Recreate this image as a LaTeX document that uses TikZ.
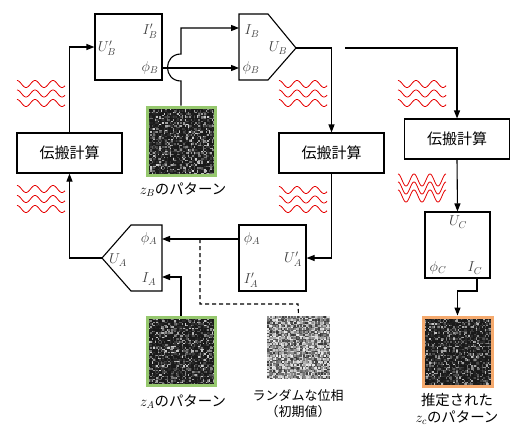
\documentclass[tikz,border=0pt]{standalone}
\usepackage{fontspec}
\newfontfamily\jp{Noto Sans CJK JP}
\usetikzlibrary{arrows.meta}
\definecolor{greenb}{RGB}{150,200,110}
\definecolor{orangeb}{RGB}{245,170,110}
\newcommand{\noisepatch}[7]{% x0 y0 maxindex seed exponent range offset
  \pgfmathsetseed{#4}
  \foreach \i in {0,...,#3} {
    \foreach \j in {0,...,#3} {
      \pgfmathsetmacro\g{int(#7+#6*rnd^#5)}
      \fill[white!\g!black] ({#1+1.5*\i},{#2+1.5*\j}) rectangle ++(1.55,1.55);
    }
  }
}
\newcommand{\wavegroup}[6]{% x0 y0 width amp period spacing
  \foreach \k in {0,1,2} {
    \draw[wave] plot[domain=0:#3,samples=90,smooth] ({#1+\x},{#2+\k*#6-#4*cos(\x/#5*360)});
  }
}
\begin{document}
\begin{tikzpicture}[x=1pt,y=-1pt,
  line width=1.1pt,
  arr/.style={-{Triangle[length=8pt,width=6pt]}},
  wave/.style={red!90!black, line width=0.8pt},
  prop/.style={draw, minimum width=105pt, minimum height=40pt, inner sep=0pt, font=\fontsize{15}{15}\selectfont\jp},
  blk/.style={draw, inner sep=0pt},
  lab/.style={text=black!75, inner sep=0pt, font=\fontsize{14.4}{14.4}\selectfont},
  captxt/.style={inner sep=0pt, font=\fontsize{14.4}{17}\selectfont\jp, align=center},
]
\useasboundingbox (0,0) rectangle (510,426);

% propagation boxes
\node[prop] (PL) at (69.5,153) {伝搬計算};
\node[prop] (PM) at (331.5,153) {伝搬計算};
\node[prop] (PR) at (457,139) {伝搬計算};

% box B1
\node[blk, minimum width=67pt, minimum height=66pt] (B1) at (128.5,47) {};
\node[lab] (B1i) at (150,31) {$I'_B$};
\node[lab] (B1u) at (107,48) {$U'_B$};
\node[lab] (B1p) at (150,68) {$\phi_B$};
\coordinate (B1out) at (162,68);

% pentagon B2
\draw (239,14) -- (268,14) -- (296,48) -- (268,80) -- (239,80) -- cycle;
\coordinate (B2i) at (239,28);
\coordinate (B2p) at (239,68);
\coordinate (B2tip) at (296,48);
\node[lab] (B2il) at (252,31) {$I_B$};
\node[lab] (B2pl) at (251,68) {$\phi_B$};
\node[lab] (B2ul) at (278,48) {$U_B$};

% box A1
\node[blk, minimum width=67pt, minimum height=66pt] (A1) at (272.5,258) {};
\node[lab] (A1p) at (252,239) {$\phi_A$};
\node[lab] (A1u) at (293,259) {$U'_A$};
\node[lab] (A1i) at (251,280) {$I'_A$};
\coordinate (A1out) at (239,239);

% pentagon A2
\draw (131,225) -- (162,225) -- (162,291) -- (131,291) -- (102,258) -- cycle;
\coordinate (A2p) at (162,239);
\coordinate (A2i) at (162,277);
\coordinate (A2tip) at (102,258);
\node[lab] (A2pl) at (149,239) {$\phi_A$};
\node[lab] (A2il) at (149,279) {$I_A$};
\node[lab] (A2ul) at (118,260) {$U_A$};

% box C
\node[blk, minimum width=65pt, minimum height=66pt] (C) at (457.5,245) {};
\node[lab] (Cu) at (458,222) {$U_C$};
\node[lab] (Cp) at (438,268) {$\phi_C$};
\node[lab] (Ci) at (475,268) {$I_C$};
\coordinate (Cout) at (477,278);

% noise images
\noisepatch{147}{107}{44}{11}{4}{75}{10}
\node[draw=greenb, line width=3pt, minimum size=68pt, inner sep=0pt] (zB) at (181,141) {};
\noisepatch{147}{317}{44}{23}{4}{75}{10}
\node[draw=greenb, line width=3pt, minimum size=68pt, inner sep=0pt] (zA) at (181,351) {};
\noisepatch{423}{317}{45}{37}{4}{70}{10}
\node[draw=orangeb, line width=3pt, minimum size=69pt, inner sep=0pt] (zC) at (457.5,351.5) {};
\noisepatch{267}{316}{41}{51}{1}{75}{20}
\node[minimum size=63pt, inner sep=0pt] (RP) at (298.5,347.5) {};

% captions
\node[captxt] (capB) at (183,190) {$z_B$のパターン};
\node[captxt] (capA) at (183,402) {$z_A$のパターン};
\node[captxt, font=\fontsize{13}{16}\selectfont\jp] (capR) at (298,404) {ランダムな位相\\（初期値）};
\node[captxt] (capC) at (457,409) {推定された\\$z_c$のパターン};

% waves
\wavegroup{17}{84}{48}{3.5}{18}{9.5}
\wavegroup{17}{189}{48}{3.5}{18}{10}
\wavegroup{279}{84}{48}{3.5}{18}{9.5}
\wavegroup{279}{190}{48}{3.5}{18}{9.5}
\wavegroup{398}{84}{48}{3.5}{18}{9.5}
\wavegroup{398}{180}{48}{6}{16}{8}

% connectors
\draw[arr] (PL.north) |- (B1.west);
\draw[arr] (B1out) -- (B2p);
\draw[arr] (zB.north) -- (181,81) .. controls (163,81) and (163,54) .. (181,54) |- (B2i);
\draw[arr] (B2tip) -| (PM.north);
\coordinate (split) at (345,48);
\draw[arr] (split) -| (PR.north);
\draw[arr] (PM.south) |- (A1.east);
\draw[arr] (A1out) -- (A2p);
\draw[arr] (zA.north) |- (A2i);
\draw[arr] (A2tip) -| (PL.south);
\draw[arr] (PR.south) -- (C.north);
\draw[arr] (Cout) -- (477,291) -| (zC.north);
\draw[dash pattern=on 4pt off 3pt, line width=1.1pt] (200,239) |- (298,304) -- (RP.north);
\end{tikzpicture}
\end{document}
